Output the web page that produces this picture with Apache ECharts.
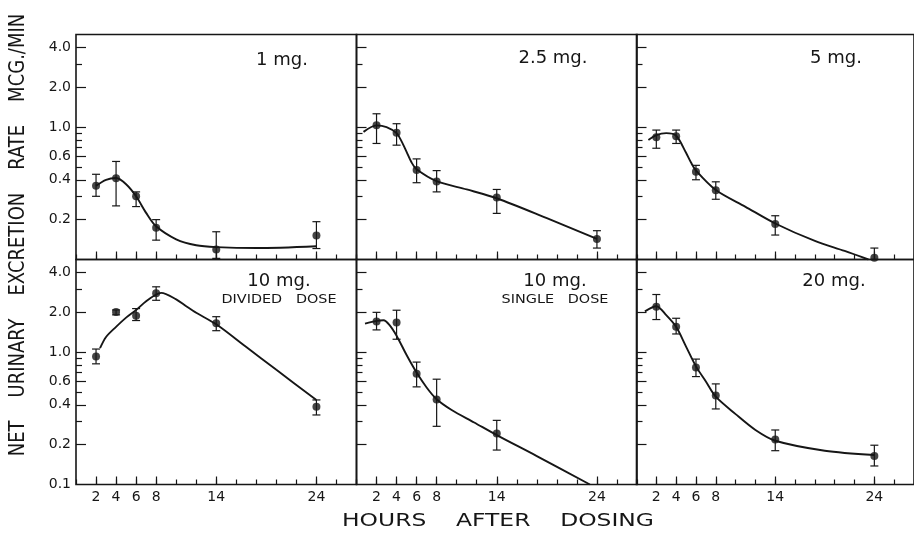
<!DOCTYPE html>
<html>
<head>
<meta charset="utf-8">
<script src="https://cdn.jsdelivr.net/npm/echarts@6/dist/echarts.min.js"></script>
<style>
  html, body { margin: 0; background: #fff; }
  #chart { width: 914px; height: 535px; }
</style>
</head>
<body>
<div id="chart"></div>
<script>
// sampling hours and axis ticks
const hours = [2, 4, 6, 8, 14, 24];
const hoursSingle = [2, 4, 6, 8, 14];
const hourLabels = [2, 4, 6, 8, 14, 24];
const rateLabelsTop = [4, 2, 1, 0.6, 0.4, 0.2];
const rateLabelsBottom = [4, 2, 1, 0.6, 0.4, 0.2, 0.1];
const rateMinorTicks = [3, 0.9, 0.8, 0.7, 0.5, 0.3];

// 1 mg
const rate1 = [0.36, 0.41, 0.30, 0.174, 0.119, 0.152];
const low1 = [0.30, 0.254, 0.251, 0.14, 0.102, 0.121];
const high1 = [0.44, 0.55, 0.324, 0.20, 0.162, 0.193];
const fitHours1 = [2, 3, 4, 5, 6, 7, 8, 10, 12, 14, 18, 24];
const fit1 = [0.36, 0.40, 0.412, 0.37, 0.30, 0.225, 0.178, 0.142, 0.128, 0.124, 0.122, 0.126];

// 2.5 mg
const rate25 = [1.03, 0.906, 0.474, 0.388, 0.294, 0.143];
const low25 = [0.752, 0.73, 0.38, 0.324, 0.223, 0.122];
const high25 = [1.26, 1.06, 0.575, 0.469, 0.338, 0.165];
const fitHours25 = [0.7, 2, 3, 4, 4.5, 5, 5.5, 6, 8, 11, 14, 19, 24];
const fit25 = [0.92, 1.03, 1.0, 0.9, 0.78, 0.65, 0.54, 0.48, 0.39, 0.338, 0.29, 0.205, 0.143];

// 5 mg
const rate5 = [0.839, 0.854, 0.46, 0.334, 0.185, 0.103];
const low5 = [0.692, 0.752, 0.40, 0.285, 0.153, 0.1];
const high5 = [0.949, 0.949, 0.514, 0.386, 0.214, 0.122];
const fitHours5 = [1.2, 2, 3, 4, 5, 5.5, 6, 8, 11, 14, 18, 21, 23.4];
const fit5 = [0.80, 0.87, 0.90, 0.86, 0.64, 0.54, 0.47, 0.335, 0.25, 0.187, 0.138, 0.116, 0.1];

// 10 mg divided dose
const rate10d = [0.926, 2.01, 1.88, 2.78, 1.65, 0.387];
const low10d = [0.815, 1.91, 1.73, 2.46, 1.45, 0.335];
const high10d = [1.054, 2.08, 2.13, 3.11, 1.85, 0.435];
const fitHours10d = [2.4, 3, 4, 5, 6, 7, 8, 8.5, 10, 11, 12, 14, 17, 20, 24];
const fit10d = [1.07, 1.3, 1.55, 1.82, 2.08, 2.42, 2.72, 2.8, 2.5, 2.22, 1.98, 1.62, 1.09, 0.734, 0.435];

// 10 mg single dose
const rate10s = [1.70, 1.67, 0.685, 0.4375, 0.243];
const low10s = [1.47, 1.25, 0.546, 0.275, 0.182];
const high10s = [1.995, 2.07, 0.84, 0.624, 0.305];
const fitHours10s = [0.85, 2, 2.7, 3.3, 4, 5, 6, 7, 8, 9.5, 11.75, 14, 18, 23.3];
const fit10s = [1.64, 1.72, 1.74, 1.6, 1.33, 0.95, 0.70, 0.54, 0.44, 0.365, 0.294, 0.236, 0.164, 0.1];

// 20 mg
const rate20 = [2.2, 1.55, 0.765, 0.469, 0.219, 0.164];
const low20 = [1.76, 1.37, 0.653, 0.372, 0.18, 0.138];
const high20 = [2.72, 1.80, 0.885, 0.575, 0.258, 0.198];
const fitHours20 = [0.85, 2, 3, 4, 5, 6, 7, 8, 10, 12, 14, 19, 24];
const fit20 = [2.03, 2.22, 1.9, 1.55, 1.1, 0.78, 0.6, 0.46, 0.34, 0.258, 0.214, 0.18, 0.167];

const panels = [
  { name: '1 mg.', sub: '', x: hours, rate: rate1, low: low1, high: high1, fx: fitHours1, fy: fit1 },
  { name: '2.5 mg.', sub: '', x: hours, rate: rate25, low: low25, high: high25, fx: fitHours25, fy: fit25 },
  { name: '5 mg.', sub: '', x: hours, rate: rate5, low: low5, high: high5, fx: fitHours5, fy: fit5 },
  { name: '10 mg.', sub: 'DIVIDED   DOSE', x: hours, rate: rate10d, low: low10d, high: high10d, fx: fitHours10d, fy: fit10d },
  { name: '10 mg.', sub: 'SINGLE   DOSE', x: hoursSingle, rate: rate10s, low: low10s, high: high10s, fx: fitHours10s, fy: fit10s },
  { name: '20 mg.', sub: '', x: hours, rate: rate20, low: low20, high: high20, fx: fitHours20, fy: fit20 }
];

const ink = '#161616';
const font = 'DejaVu Sans';
const gridLeft = [76, 356.5, 636.5];
const gridTop = [34.5, 259.5];
const gridW = 280.5, gridH = 225;
// label centres inside each panel
const nameX = [282, 553, 836, 279, 555, 834];
const nameY = [60.5, 58, 58.5, 281.5, 281.5, 281];

const chart = echarts.init(document.getElementById('chart'), null, { renderer: 'canvas' });

const grid = [], xAxis = [], yAxis = [], series = [], graphic = [];

function errorBar(params, api) {
  const x = api.value(0);
  const top = api.coord([x, api.value(2)]);
  const bot = api.coord([x, api.value(1)]);
  const w = 4;
  const st = { stroke: ink, lineWidth: 1.2 };
  return {
    type: 'group',
    children: [
      { type: 'line', shape: { x1: top[0], y1: top[1], x2: bot[0], y2: bot[1] }, style: st },
      { type: 'line', shape: { x1: top[0] - w, y1: top[1], x2: top[0] + w, y2: top[1] }, style: st },
      { type: 'line', shape: { x1: bot[0] - w, y1: bot[1], x2: bot[0] + w, y2: bot[1] }, style: st }
    ]
  };
}

panels.forEach(function (p, i) {
  const row = Math.floor(i / 3), col = i % 3;
  grid.push({
    left: gridLeft[col], top: gridTop[row], width: gridW, height: gridH,
    show: true, borderColor: ink, borderWidth: 1.6, backgroundColor: 'transparent'
  });
  // main x axis: labelled hours, longer ticks
  xAxis.push({
    type: 'value', gridIndex: i, position: 'bottom', min: 0, max: 28,
    axisLine: { show: false },
    splitLine: { show: false },
    axisTick: { inside: true, length: 8, customValues: hourLabels, lineStyle: { color: ink, width: 1.2 } },
    axisLabel: {
      show: row === 1, customValues: hourLabels, margin: 6,
      fontFamily: font, fontSize: 14, color: ink
    }
  });
  // every-two-hours short ticks
  xAxis.push({
    type: 'value', gridIndex: i, position: 'bottom', min: 0, max: 28, interval: 2,
    axisLine: { show: false }, splitLine: { show: false }, axisLabel: { show: false },
    axisTick: { inside: true, length: 5, lineStyle: { color: ink, width: 1.2 } }
  });
  const labels = row === 0 ? rateLabelsTop : rateLabelsBottom;
  yAxis.push({
    type: 'log', logBase: 10, gridIndex: i, position: 'left', min: 0.1, max: 5,
    axisLine: { show: false }, splitLine: { show: false },
    axisTick: { inside: true, length: 10, customValues: rateLabelsTop, lineStyle: { color: ink, width: 1.2 } },
    axisLabel: {
      show: col === 0, customValues: labels, margin: 5,
      fontFamily: font, fontSize: 14, color: ink,
      formatter: function (v) { return Number(v).toFixed(1); }
    }
  });
  yAxis.push({
    type: 'log', logBase: 10, gridIndex: i, position: 'left', min: 0.1, max: 5,
    axisLine: { show: false }, splitLine: { show: false }, axisLabel: { show: false },
    axisTick: { inside: true, length: 6, customValues: rateMinorTicks, lineStyle: { color: ink, width: 1.2 } }
  });

  series.push({
    type: 'line', xAxisIndex: 2 * i, yAxisIndex: 2 * i,
    data: p.fx.map(function (h, k) { return [h, p.fy[k]]; }),
    smooth: 0.3, symbol: 'none', clip: true, silent: true,
    lineStyle: { color: ink, width: 1.9 }
  });
  series.push({
    type: 'custom', xAxisIndex: 2 * i, yAxisIndex: 2 * i,
    data: p.x.map(function (h, k) { return [h, p.low[k], p.high[k]]; }),
    encode: { x: 0, y: [1, 2] },
    renderItem: errorBar, silent: true
  });
  series.push({
    type: 'scatter', xAxisIndex: 2 * i, yAxisIndex: 2 * i,
    data: p.x.map(function (h, k) { return [h, p.rate[k]]; }),
    symbolSize: 8, itemStyle: { color: ink }, silent: true
  });

  graphic.push({
    type: 'text', x: nameX[i], y: nameY[i],
    style: { text: p.name, fontFamily: font, fontSize: 18, fill: ink, align: 'center', verticalAlign: 'middle' }
  });
  if (p.sub) {
    graphic.push({
      type: 'text', x: nameX[i], y: 300, scaleX: 1.2,
      style: { text: p.sub, fontFamily: font, fontSize: 12, fill: ink, align: 'center', verticalAlign: 'middle' }
    });
  }
});

graphic.push({
  type: 'text', x: 498, y: 521.5, scaleX: 1.3,
  style: { text: 'HOURS    AFTER    DOSING', fontFamily: font, fontSize: 18, fill: ink, align: 'center', verticalAlign: 'middle' }
});
graphic.push({
  type: 'text', x: 18, y: 235, rotation: Math.PI / 2, scaleY: 1.22,
  style: { text: 'NET    URINARY    EXCRETION    RATE    MCG./MIN', fontFamily: font, fontSize: 18, fill: ink, align: 'center', verticalAlign: 'middle' }
});

const option = {
  animation: false,
  backgroundColor: '#fff',
  grid: grid,
  xAxis: xAxis,
  yAxis: yAxis,
  series: series,
  graphic: graphic
};

chart.setOption(option);
</script>
</body>
</html>
